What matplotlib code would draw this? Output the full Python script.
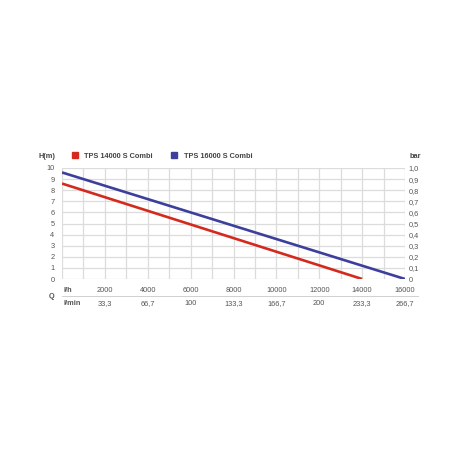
import matplotlib
matplotlib.use("Agg")
import matplotlib.pyplot as plt
import numpy as np

tps14_q = [0, 14000]
tps14_h = [8.6, 0.0]
tps16_q = [0, 16000]
tps16_h = [9.6, 0.0]
xticks_lh = [2000, 4000, 6000, 8000, 10000, 12000, 14000, 16000]
xticks_lmin = ["33,3", "66,7", "100", "133,3", "166,7", "200", "233,3", "266,7"]
yticks_m = [0, 1, 2, 3, 4, 5, 6, 7, 8, 9, 10]
yticks_bar = ["0", "0,1", "0,2", "0,3", "0,4", "0,5", "0,6", "0,7", "0,8", "0,9", "1,0"]
series_names = ["TPS 14000 S Combi", "TPS 16000 S Combi"]
colors = ["#d42a1e", "#3c3f9c"]

plt.rcParams['font.family'] = ['Liberation Sans', 'DejaVu Sans']
W = H = 460
fig = plt.figure(figsize=(4.6, 4.6), dpi=100)
x0, x1, y0, y1 = 62, 405, 169, 280
ax = fig.add_axes([x0 / W, 1 - y1 / H, (x1 - x0) / W, (y1 - y0) / H])
ax.set_xlim(0, 16000)
ax.set_ylim(0, 10)
grid_c = "#dcdcdc"
for v in range(0, 16001, 1000):
    ax.axvline(v, color=grid_c, lw=0.9, zorder=1)
for v in range(0, 11):
    ax.axhline(v, color=grid_c, lw=0.9, zorder=1)
for s in ax.spines.values():
    s.set_visible(False)
ax.set_xticks([])
ax.set_yticks([])

ax.plot(tps14_q, tps14_h, color=colors[0], lw=1.9, zorder=3, solid_capstyle='butt')
ax.plot(tps16_q, tps16_h, color=colors[1], lw=1.9, zorder=3, solid_capstyle='butt')

tc = "#555555"
fs = 5.3
hc = "#444444"

def fx(px):
    return px / W
def fy(py):
    return 1 - py / H

for v in yticks_m:
    py = y1 - (y1 - y0) * v / 10
    fig.text(fx(54.5), fy(py), str(v), ha='right', va='center', fontsize=fs, color=tc)
for i, lab in enumerate(yticks_bar):
    py = y1 - (y1 - y0) * i / 10
    fig.text(fx(408.5), fy(py), lab, ha='left', va='center', fontsize=fs, color=tc)

for v, lm in zip(xticks_lh, xticks_lmin):
    px = x0 + (x1 - x0) * v / 16000
    fig.text(fx(px), fy(290.3), str(v), ha='center', va='center', fontsize=fs, color=tc)
    fig.text(fx(px), fy(304), lm, ha='center', va='center', fontsize=fs, color=tc)
fig.text(fx(64), fy(290.3), "l/h", ha='left', va='center', fontsize=fs, color=tc, fontweight='bold')
fig.text(fx(64), fy(304), "l/min", ha='left', va='center', fontsize=fs, color=tc, fontweight='bold')
fig.text(fx(52), fy(297), "Q", ha='center', va='center', fontsize=fs, color=tc, fontweight='bold')
fig.add_artist(plt.Line2D([fx(x0), fx(418)], [fy(296.7), fy(296.7)], color="#d0d0d0", lw=0.7))

fig.text(fx(47), fy(156), "H(m)", ha='center', va='center', fontsize=fs, color=hc, fontweight='bold')
fig.text(fx(415), fy(156), "bar", ha='center', va='center', fontsize=fs, color=hc, fontweight='bold')
for cx, tx, name, c in [(75, 84, series_names[0], colors[0]), (174, 184, series_names[1], colors[1])]:
    fig.add_artist(plt.Rectangle((fx(cx - 3), fy(159)), 6 / W, 6 / H, color=c, transform=fig.transFigure))
    fig.text(fx(tx), fy(156), name, ha='left', va='center', fontsize=fs, color=hc, fontweight='bold')

fig.savefig("out.png", dpi=100, facecolor="white")
